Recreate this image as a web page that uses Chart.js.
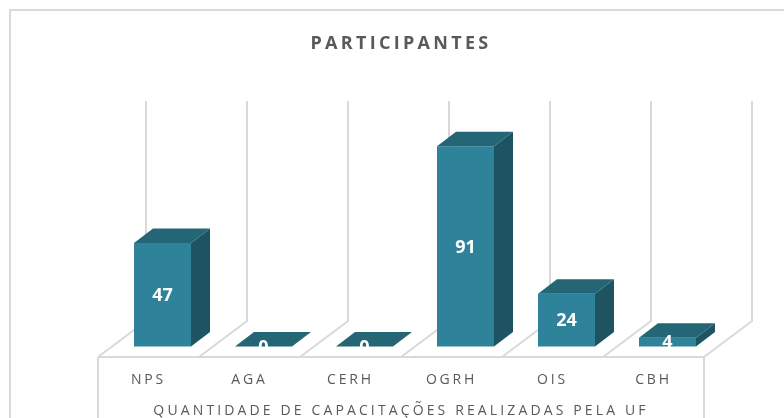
<!DOCTYPE html>
<html>
<head>
<meta charset="utf-8">
<script src="https://cdn.jsdelivr.net/npm/chart.js@4"></script>
<style>
html, body { margin: 0; padding: 0; background: #fff; overflow: hidden; width: 784px; height: 418px; }
canvas { display: block; }
</style>
</head>
<body>
<canvas id="barChart" width="804" height="418"></canvas>
<script>
const categories = ['NPS', 'AGA', 'CERH', 'OGRH', 'OIS', 'CBH'];
const participantes = [47, 0, 0, 91, 24, 4];
const chartTitle = 'PARTICIPANTES';
const axisTitle = 'QUANTIDADE DE CAPACITAÇÕES REALIZADAS PELA UF';

const wallDepth = { x: 48, y: 36 };
const barOffset = { x: 14, y: 10.5 };
const barDepth = { x: 19, y: 14.5 };
const gridColor = '#d9d9d9';

const spaced = (fn, spacing) => function (...args) {
	this.ctx.letterSpacing = spacing;
	fn.apply(this, args);
	this.ctx.letterSpacing = '0px';
};

const drawThreeD = {
	id: 'drawThreeD',
	afterLayout(chart) {
		const x = chart.scales.x;
		x.drawLabels = spaced(x.drawLabels, '2.8px');
		x.drawTitle = spaced(x.drawTitle, '3.13px');
		chart.titleBlock.draw = spaced(chart.titleBlock.draw, '3.3px');
	},
	beforeDraw(chart) {
		const { ctx } = chart;
		ctx.save();
		ctx.strokeStyle = gridColor;
		ctx.lineWidth = 2;
		ctx.strokeRect(10, 10, 784, 500);
		ctx.restore();
	},
	beforeDatasetsDraw(chart) {
		// back wall, floor and front lines
		const { ctx } = chart;
		const x = chart.scales.x;
		const y = chart.scales.y;
		const step = x.getPixelForValue(1) - x.getPixelForValue(0);
		const floor = y.getPixelForValue(0);
		const top = y.getPixelForValue(y.max);
		ctx.save();
		ctx.strokeStyle = gridColor;
		ctx.lineWidth = 2;
		ctx.beginPath();
		for (let i = 0; i <= categories.length; i++) {
			const px = x.getPixelForValue(0) + step * (i - 0.5);
			ctx.moveTo(px, floor);
			ctx.lineTo(px + wallDepth.x, floor - wallDepth.y);
			ctx.lineTo(px + wallDepth.x, top - wallDepth.y);
		}
		ctx.moveTo(x.left, floor);
		ctx.lineTo(x.right, floor);
		ctx.moveTo(x.left, floor);
		ctx.lineTo(x.left, 420);
		ctx.moveTo(x.right, floor);
		ctx.lineTo(x.right, 420);
		ctx.stroke();
		ctx.restore();
	},
	beforeDatasetDraw(chart) {
		chart.ctx.save();
		chart.ctx.translate(barOffset.x, -barOffset.y);
	},
	afterDatasetDraw(chart, args) {
		const { ctx } = chart;
		args.meta.data.forEach(bar => {
			const left = bar.x - bar.width / 2;
			const right = bar.x + bar.width / 2;
			// side
			ctx.fillStyle = '#1e5362';
			ctx.beginPath();
			ctx.moveTo(right, bar.y);
			ctx.lineTo(right + barDepth.x, bar.y - barDepth.y);
			ctx.lineTo(right + barDepth.x, bar.base - barDepth.y);
			ctx.lineTo(right, bar.base);
			ctx.closePath();
			ctx.fill();
			// top
			ctx.fillStyle = '#246675';
			ctx.beginPath();
			ctx.moveTo(left, bar.y);
			ctx.lineTo(left + barDepth.x, bar.y - barDepth.y);
			ctx.lineTo(right + barDepth.x, bar.y - barDepth.y);
			ctx.lineTo(right, bar.y);
			ctx.closePath();
			ctx.fill();
		});
		ctx.restore();
	},
	afterDatasetsDraw(chart) {
		const { ctx } = chart;
		const meta = chart.getDatasetMeta(0);
		ctx.save();
		ctx.font = 'bold 18px "Open Sans"';
		ctx.fillStyle = '#fff';
		ctx.textAlign = 'center';
		ctx.textBaseline = 'middle';
		meta.data.forEach((bar, i) => {
			ctx.fillText(participantes[i], bar.x + barOffset.x, (bar.y + bar.base) / 2 - barOffset.y + 1);
		});
		ctx.restore();
	}
};

new Chart(document.getElementById('barChart'), {
	type: 'bar',
	data: {
		labels: categories,
		datasets: [{
			label: chartTitle,
			data: participantes,
			backgroundColor: '#2e839b',
			barPercentage: 57 / 101,
			categoryPercentage: 1,
			clip: false
		}]
	},
	options: {
		responsive: false,
		animation: false,
		layout: { padding: { left: 98, right: 100, top: 0, bottom: 0 } },
		plugins: {
			legend: { display: false },
			tooltip: { enabled: false },
			title: {
				display: true,
				text: chartTitle,
				color: '#595959',
				font: { family: '"Open Sans"', size: 18, weight: 'bold' },
				padding: { top: 33.2, bottom: 82.2 }
			}
		},
		scales: {
			x: {
				afterFit(scale) { scale.height = 61; },
				grid: { display: false },
				border: { display: false },
				ticks: {
					color: '#595959',
					font: { family: '"Open Sans"', size: 14 },
					padding: 7,
					maxRotation: 0
				},
				title: {
					display: true,
					text: axisTitle,
					color: '#595959',
					font: { family: '"Open Sans"', size: 14 },
					padding: { top: 4, bottom: -1 }
				}
			},
			y: { display: false, min: 0, max: 100 }
		}
	},
	plugins: [drawThreeD]
});
</script>
</body>
</html>
